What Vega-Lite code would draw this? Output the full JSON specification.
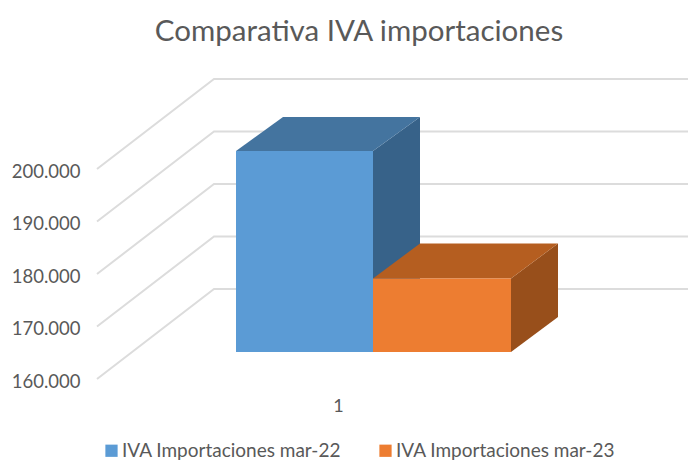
{"$schema":"https://vega.github.io/schema/vega-lite/v6.json","width":688,"height":335,"autosize":"none","padding":{"top":60,"left":0,"right":0,"bottom":68},"background":"white","config":{"view":{"stroke":null}},"title":{"text":"Comparativa IVA importaciones","font":"Lato","fontSize":29.5,"fontWeight":"normal","color":"#595959","anchor":"middle","dx":15,"offset":13},"layer":[{"data":{"values":[{"g":"a","x":97,"y":200000},{"g":"a","x":214,"y":217143},{"g":"a","x":688,"y":217143},{"g":"b","x":97,"y":190000},{"g":"b","x":214,"y":207143},{"g":"b","x":688,"y":207143},{"g":"c","x":97,"y":180000},{"g":"c","x":214,"y":197143},{"g":"c","x":688,"y":197143},{"g":"d","x":97,"y":170000},{"g":"d","x":214,"y":187143},{"g":"d","x":688,"y":187143},{"g":"e","x":97,"y":160000},{"g":"e","x":214,"y":177143},{"g":"e","x":688,"y":177143}]},"mark":{"type":"line","stroke":"#dcdcdc","strokeWidth":2,"interpolate":"linear"},"encoding":{"x":{"field":"x","type":"quantitative","scale":{"domain":[0,688],"nice":false,"zero":false},"axis":{"values":[338],"title":null,"domain":false,"ticks":false,"grid":false,"labelExpr":"'1'","labelFont":"Lato","labelFontSize":18,"labelColor":"#595959","labelPadding":2}},"y":{"field":"y","type":"quantitative","scale":{"domain":[156952.4,220761.9],"nice":false,"zero":false},"axis":{"values":[160000,170000,180000,190000,200000],"title":null,"domain":false,"ticks":false,"grid":false,"offset":-80,"labelPadding":0,"labelOffset":2,"labelExpr":"replace(format(datum.value,','),',','.')","labelFont":"Lato","labelFontSize":18.5,"labelColor":"#595959"}},"detail":{"field":"g"},"order":{"field":"x"}}},{"data":{"values":[{"face":"lado 22","x":373,"y":203429,"y2":165143},{"face":"lado 22","x":420,"y":209905,"y2":171619},{"face":"sup 22","x":236,"y":203429,"y2":203429},{"face":"sup 22","x":283,"y":209905,"y2":203429},{"face":"sup 22","x":373,"y":209905,"y2":203429},{"face":"sup 22","x":420,"y":209905,"y2":209905}]},"mark":{"type":"area","interpolate":"linear"},"encoding":{"x":{"field":"x","type":"quantitative"},"y":{"field":"y","type":"quantitative"},"y2":{"field":"y2"},"color":{"field":"face","type":"nominal","legend":null,"scale":{"domain":["lado 22","sup 22"],"range":["#376289","#44749F"]}}}},{"data":{"values":[{"face":"lado 23","x":511,"y":179143,"y2":165143},{"face":"lado 23","x":558,"y":185810,"y2":171810},{"face":"sup 23","x":373,"y":179143,"y2":179143},{"face":"sup 23","x":420,"y":185810,"y2":179143},{"face":"sup 23","x":511,"y":185810,"y2":179143},{"face":"sup 23","x":558,"y":185810,"y2":185810}]},"mark":{"type":"area","interpolate":"linear"},"encoding":{"x":{"field":"x","type":"quantitative"},"y":{"field":"y","type":"quantitative"},"y2":{"field":"y2"},"color":{"field":"face","type":"nominal","legend":null,"scale":{"domain":["lado 23","sup 23"],"range":["#984F1B","#B55E20"]}}}},{"data":{"values":[{"serie":"IVA Importaciones mar-22","x0":236,"x1":373,"base":165143,"valor":203429},{"serie":"IVA Importaciones mar-23","x0":373,"x1":511,"base":165143,"valor":179143}]},"mark":{"type":"rect"},"encoding":{"x":{"field":"x0","type":"quantitative"},"x2":{"field":"x1"},"y":{"field":"base","type":"quantitative"},"y2":{"field":"valor"},"color":{"field":"serie","type":"nominal","scale":{"domain":["IVA Importaciones mar-22","IVA Importaciones mar-23"],"range":["#5B9BD5","#ED7D31"]},"legend":{"orient":"none","legendX":102,"legendY":381,"direction":"horizontal","title":null,"symbolType":"square","symbolSize":150,"symbolStrokeWidth":0,"labelFont":"Lato","labelFontSize":19,"labelColor":"#595959","columnPadding":34,"labelOffset":1,"labelLimit":260}}}}],"resolve":{"scale":{"color":"independent","x":"shared","y":"shared"}}}
